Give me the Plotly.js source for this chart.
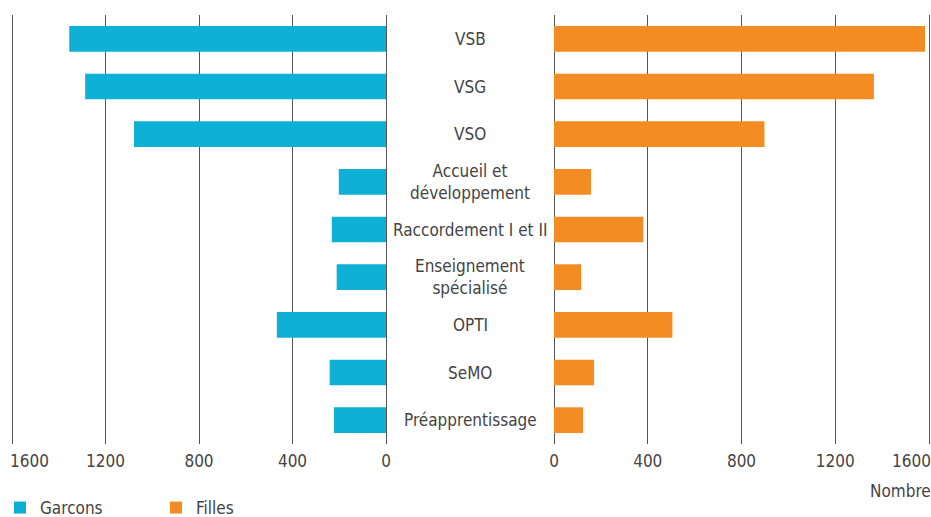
<!DOCTYPE html>
<html>
<head>
<meta charset="utf-8">
<script src="https://cdn.plot.ly/plotly-3.0.1.min.js"></script>
<style>html,body{margin:0;padding:0;background:#fff;}#chart{width:931px;height:517px;}</style>
</head>
<body>
<div id="chart"></div>
<script>
const categories = ["VSB", "VSG", "VSO", "Accueil et<br>développement", "Raccordement I et II", "Enseignement<br>spécialisé", "OPTI", "SeMO", "Préapprentissage"];
const garcons = [1355, 1287, 1078, 202, 232, 211, 467, 241, 223];
const filles = [1583, 1365, 898, 158, 381, 116, 505, 171, 124];
const tickVals = [0, 400, 800, 1200, 1600];
const tickText = ["0", "400", "800", "1200", "1600"];
const seriesNames = ["Garcons", "Filles"];

const FONT = "'Liberation Sans Narrow', 'DejaVu Sans Condensed', 'Arial Narrow', sans-serif";
const FS = 17;
const W = 931, H = 517;
const TXT = "#444";
const GRID = "#555";
const PX = 374 / 1600; // pixels per unit
const EXT = 8; // small extension beyond 1600 so the last gridline is drawn
const LAST = tickVals.length - 1;

const traces = [
  {type: "bar", orientation: "h", name: seriesNames[0], y: categories, x: garcons,
   xaxis: "x", yaxis: "y", marker: {color: "#0FB0D5"}, width: 0.54, hoverinfo: "x+y"},
  {type: "bar", orientation: "h", name: seriesNames[1], y: categories, x: filles,
   xaxis: "x2", yaxis: "y", marker: {color: "#F38C22"}, width: 0.54, hoverinfo: "x+y"}
];

// outermost tick label is drawn as an aligned annotation (like the reference)
const shownText = tickText.map((t, i) => i === LAST ? "" : t);

const xcommon = {
  tickvals: tickVals, ticktext: shownText, showgrid: true, gridcolor: GRID, gridwidth: 1,
  zeroline: true, zerolinecolor: GRID, zerolinewidth: 1, showline: false, ticks: "",
  tickfont: {family: FONT, size: FS, color: TXT}, anchor: "y", fixedrange: true,
  ticklabelstandoff: 5
};

const annotations = categories.map(c => ({
  xref: "paper", yref: "y", x: 470 / W, y: c, text: c, showarrow: false,
  xanchor: "center", yanchor: "middle", align: "center",
  font: {family: FONT, size: FS, color: TXT}
}));
const tickY = (444 - 461.5) / 429;
annotations.push({
  xref: "x", yref: "paper", x: tickVals[LAST], y: tickY, xanchor: "left", yanchor: "middle", xshift: -4,
  text: tickText[LAST], showarrow: false, font: {family: FONT, size: FS, color: TXT}
});
annotations.push({
  xref: "x2", yref: "paper", x: tickVals[LAST], y: tickY, xanchor: "right", yanchor: "middle", xshift: 4,
  text: tickText[LAST], showarrow: false, font: {family: FONT, size: FS, color: TXT}
});
annotations.push({
  xref: "paper", yref: "paper", x: 933 / W, y: (444 - 491) / 429, xanchor: "right", yanchor: "middle",
  text: "Nombre", showarrow: false, font: {family: FONT, size: FS, color: TXT}
});

const layout = {
  width: W, height: H,
  margin: {l: 0, r: 0, t: 15, b: 73},
  paper_bgcolor: "#fff", plot_bgcolor: "rgba(0,0,0,0)",
  font: {family: FONT, color: TXT, size: FS},
  xaxis: Object.assign({}, xcommon, {domain: [(12 - EXT * PX) / W, 386 / W], range: [1600 + EXT, 0]}),
  xaxis2: Object.assign({}, xcommon, {domain: [554 / W, (929 + EXT * PX) / W], range: [0, 1600 + EXT]}),
  yaxis: {type: "category", categoryorder: "array", categoryarray: categories,
          autorange: "reversed", showticklabels: false, showgrid: false, zeroline: false,
          showline: false, ticks: "", fixedrange: true},
  showlegend: true,
  legend: {orientation: "h", x: -2 / W, xanchor: "left", yref: "container", y: (H - 508) / H, yanchor: "middle",
           entrywidth: 111, entrywidthmode: "pixels", font: {family: FONT, size: FS, color: TXT},
           traceorder: "normal", bgcolor: "rgba(0,0,0,0)"},
  bargap: 0.46,
  annotations: annotations
};

Plotly.newPlot("chart", traces, layout, {displayModeBar: false, staticPlot: true});
</script>
</body>
</html>
